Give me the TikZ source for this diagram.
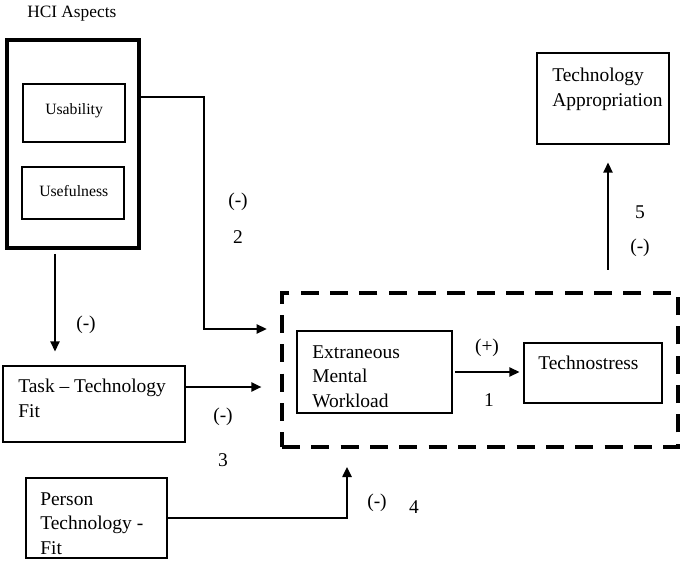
\documentclass[tikz,border=0pt]{standalone}
\usepackage{fontspec}
\setmainfont{Liberation Serif}
\usetikzlibrary{arrows.meta}

\begin{document}
\begin{tikzpicture}[x=0.75pt,y=-0.75pt,
  box/.style={draw,line width=0.9pt,inner sep=0pt},
  txt/.style={inner sep=0pt,anchor=north west,align=left,font=\fontsize{14.6}{18.5}\selectfont},
  small/.style={inner sep=0pt,anchor=north west,font=\fontsize{11.8}{14}\selectfont},
  lab/.style={inner sep=0pt,font=\fontsize{14.6}{17}\selectfont},
  arr/.style={line width=1.1pt,-{Triangle[length=7.5pt,width=7pt]}}]
\useasboundingbox (0,0) rectangle (685,563);

% boxes
\path (73,144) node[box,line width=2.8pt,minimum width=99pt,minimum height=156pt] (hci) {};
\path (74,113) node[box,minimum width=76.5pt,minimum height=43.5pt] (usab) {};
\path (73,193) node[box,minimum width=76.5pt,minimum height=39pt] (usef) {};
\path (94,404) node[box,minimum width=136.5pt,minimum height=57pt] (task) {};
\path (96.5,518) node[box,minimum width=105.75pt,minimum height=60pt] (person) {};
\path (480,370) node[draw,line width=3pt,dash pattern=on 13.5pt off 8.5pt,inner sep=0pt,
  minimum width=297pt,minimum height=115.5pt] (core) {};
\path (374.5,372) node[box,minimum width=116.25pt,minimum height=61.5pt] (ext) {};
\path (593,373) node[box,minimum width=103.5pt,minimum height=45pt] (tech) {};
\path (603,98.5) node[box,minimum width=99pt,minimum height=68.25pt] (appr) {};

% texts
\path (27,6) node[inner sep=0pt,anchor=north west,font=\fontsize{13}{15}\selectfont] (hcit) {HCI Aspects};
\path (45,103) node[small] (usabt) {Usability};
\path (39,185) node[small] (useft) {Usefulness};
\path (18,379) node[txt] (taskt) {Task -- Technology\\Fit};
\path (40,492) node[txt] (persont) {Person\\Technology -\\Fit};
\path (312,345) node[txt] (extt) {Extraneous\\Mental\\Workload};
\path (538,356) node[txt] (techt) {Technostress};
\path (552,68) node[txt] (apprt) {Technology\\Appropriation};

% connectors
\coordinate (k2) at (204,329);
\draw[arr,shorten >=10pt] ([shift={(0,-47)}]hci.east) -| (k2) -- (k2 -| core.west);
\draw[arr,shorten <=3pt,shorten >=10.5pt] ([shift={(-18,0)}]hci.south) -- ([shift={(-39,0)}]task.north);
\coordinate (t3) at ([shift={(0,-17)}]task.east);
\draw[arr,shorten >=14pt] (t3) -- (t3 -| core.west);
\draw[arr,shorten >=13.5pt] (person.east) -| ([shift={(-133,0)}]core.south);
\draw[arr,shorten <=2pt,shorten >=3pt] (ext.east) -- (ext.east -| tech.west);
\coordinate (s5) at ([shift={(128,0)}]core.north);
\draw[arr,shorten <=16pt,shorten >=13.5pt] (s5) -- (s5 |- appr.south);

% labels
\path (238,202) node[lab] (m2) {(-)};
\path (238,237) node[lab] (n2) {2};
\path (86,325) node[lab] (m0) {(-)};
\path (223,417) node[lab] (m3) {(-)};
\path (223,460) node[lab] (n3) {3};
\path (487,348) node[lab] (p1) {(+)};
\path (489,400) node[lab] (n1) {1};
\path (640,212) node[lab] (n5) {5};
\path (640,248) node[lab] (m5) {(-)};
\path (377,503) node[lab] (m4) {(-)};
\path (414,507) node[lab] (n4) {4};

\end{tikzpicture}
\end{document}
